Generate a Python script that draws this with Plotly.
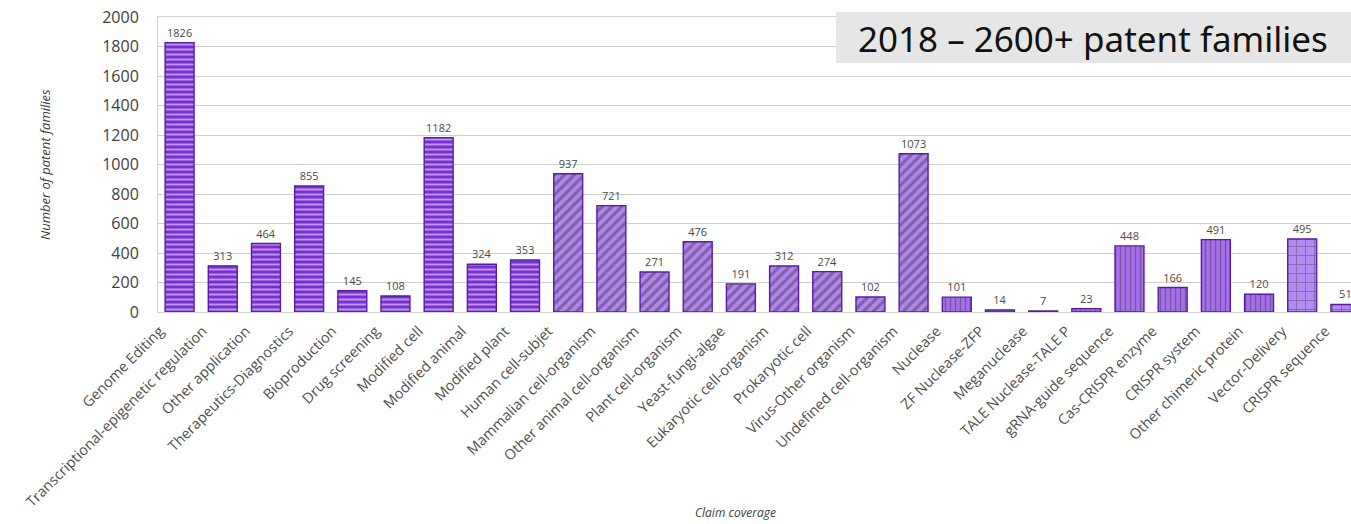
import plotly.graph_objects as go

# ---------------- data ----------------
categories = [
    "Genome Editing", "Transcriptional-epigenetic regulation", "Other application",
    "Therapeutics-Diagnostics", "Bioproduction", "Drug screening", "Modified cell",
    "Modified animal", "Modified plant", "Human cell-subjet", "Mammalian cell-organism",
    "Other animal cell-organism", "Plant cell-organism", "Yeast-fungi-algae",
    "Eukaryotic cell-organism", "Prokaryotic cell", "Virus-Other organism",
    "Undefined cell-organism", "Nuclease", "ZF Nuclease-ZFP", "Meganuclease",
    "TALE Nuclease-TALE P", "gRNA-guide sequence", "Cas-CRISPR enzyme",
    "CRISPR system", "Other chimeric protein", "Vector-Delivery", "CRISPR sequence",
]
values = [1826, 313, 464, 855, 145, 108, 1182, 324, 353, 937, 721, 271, 476, 191,
          312, 274, 102, 1073, 101, 14, 7, 23, 448, 166, 491, 120, 495, 51]
groups = (["application"] * 9 + ["organism"] * 9 + ["tool"] * 8 + ["delivery"] * 2)

y_ticks = [0, 200, 400, 600, 800, 1000, 1200, 1400, 1600, 1800, 2000]
x_title = "Claim coverage"
y_title = "Number of patent families"
box_text = "2018 \u2013 2600+ patent families"

# ---------------- styles ----------------
STYLE = {
    "application": dict(shape="-", bg="#7a2ed6", fg="#a982ea", size=5, sol=0.4),
    "organism":    dict(shape="/", bg="#b484f4", fg="#5a1aac", size=7, sol=0.45),
    "tool":        dict(shape="|", bg="#a76ef0", fg="#6326bf", size=5, sol=0.3),
    "delivery":    dict(shape="+", bg="#b48af4", fg="#6024be", size=9, sol=0.18),
}

fig = go.Figure()
fig.add_trace(go.Bar(
    x=list(range(len(categories))),
    y=values,
    width=0.67,
    text=[str(v) for v in values],
    textposition="outside",
    textfont=dict(family="Open Sans", size=11, color="#4a4a4a"),
    cliponaxis=True,
    marker=dict(
        color=[STYLE[g]["bg"] for g in groups],
        line=dict(color="#5a1aa2", width=1.4),
        pattern=dict(
            shape=[STYLE[g]["shape"] for g in groups],
            fgcolor=[STYLE[g]["fg"] for g in groups],
            size=[STYLE[g]["size"] for g in groups],
            solidity=[STYLE[g]["sol"] for g in groups],
            fillmode="overlay",
        ),
    ),
    hoverinfo="x+y",
))

W, H = 1351, 524
left, right, top, bottom = 158, 0, 17, 212
plot_w = W - left - right
plot_h = H - top - bottom

def px_x(p):
    return (p - left) / plot_w

def px_y(p):
    return (H - bottom - p) / plot_h

fig.update_layout(
    width=W, height=H,
    margin=dict(l=left, r=right, t=top, b=bottom, pad=0, autoexpand=False),
    paper_bgcolor="white", plot_bgcolor="white",
    showlegend=False,
    font=dict(family="Open Sans", color="#404040"),
    xaxis=dict(
        automargin=False,
        range=[-0.5, 27.13],
        tickmode="array",
        tickvals=list(range(len(categories))),
        ticktext=categories,
        tickangle=-45,
        ticklabelshift=-20,
        ticklabeloverflow="allow",
        tickfont=dict(family="Open Sans", size=14.5, color="#505050"),
        showgrid=False,
        showline=True, mirror=True, linecolor="#d4d4d4", linewidth=1,
        ticks="outside", ticklen=4, tickcolor="white", zeroline=False,
    ),
    yaxis=dict(
        automargin=False,
        range=[0, 2000],
        tickmode="array",
        tickvals=y_ticks,
        ticklabeloverflow="allow",
        tickfont=dict(family="Open Sans", size=16, color="#404040"),
        showgrid=True, gridcolor="#cfcfcf", gridwidth=1.2,
        showline=True, linecolor="#d4d4d4", linewidth=1,
        ticks="outside", ticklen=15, tickcolor="white",
        zeroline=False,
    ),
    shapes=[dict(
        type="rect", xref="paper", yref="paper",
        x0=px_x(836), x1=1.0, y0=px_y(63), y1=px_y(12),
        fillcolor="#e6e6e6", line=dict(width=0), layer="above",
    )],
    annotations=[
        dict(text=box_text, xref="paper", yref="paper",
             x=px_x(1093), y=px_y(38), xanchor="center", yanchor="middle",
             showarrow=False, font=dict(family="Noto Sans", size=35, color="#111111")),
        dict(text="<i>" + x_title + "</i>", xref="paper", yref="paper",
             x=px_x(735), y=px_y(512), xanchor="center", yanchor="middle",
             showarrow=False, font=dict(family="Open Sans", size=12, color="#404040")),
        dict(text="<i>" + y_title + "</i>", xref="paper", yref="paper",
             x=px_x(45), y=px_y(165), xanchor="center", yanchor="middle",
             textangle=-90,
             showarrow=False, font=dict(family="Open Sans", size=13, color="#404040")),
    ],
)

# remove the default 8px page margin so the figure fills the window exactly
fig.write_html(
    "out.html",
    config={"displayModeBar": False},
    post_script="document.body.style.margin='0';document.body.style.overflow='hidden';",
)
